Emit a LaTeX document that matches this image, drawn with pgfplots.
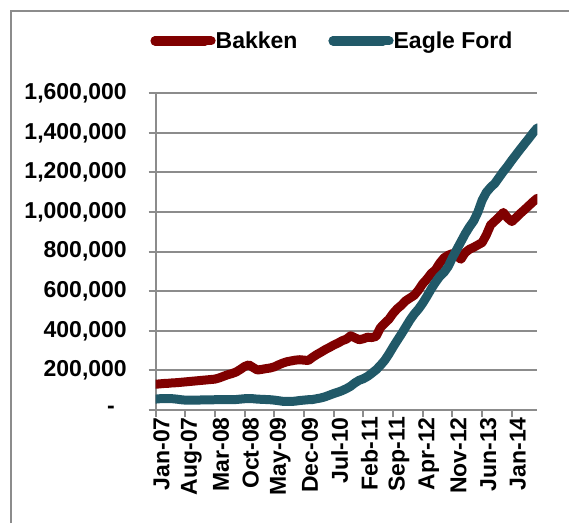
\documentclass[border=0pt]{standalone}
\usepackage{fontspec}
\setmainfont{Liberation Sans}
\usepackage{pgfplots}
\usepackage{pgfplotstable}
\pgfplotsset{compat=1.18}
\definecolor{bakken}{RGB}{128,0,0}
\definecolor{eagle}{RGB}{33,89,104}
\definecolor{gridc}{RGB}{140,140,140}
\pgfplotstableread{
m bakken eagle
0 130000 55000
1 132000 57000
2 134000 58000
3 135000 58000
4 137000 57000
5 138000 55000
6 140000 52000
7 142000 50000
8 144000 50000
9 146000 50000
10 148000 50000
11 150000 51000
12 152000 51000
13 154000 51000
14 156000 52000
15 162000 52000
16 170000 52000
17 178000 52000
18 184000 52000
19 192000 53000
20 205000 55000
21 220000 57000
22 228000 58000
23 215000 57000
24 202000 55000
25 205000 54000
26 209000 53000
27 212000 52000
28 218000 50000
29 228000 47000
30 237000 44000
31 244000 43000
32 248000 43000
33 252000 45000
34 254000 48000
35 252000 50000
36 250000 52000
37 266000 53000
38 280000 57000
39 292000 61000
40 305000 67000
41 316000 75000
42 328000 83000
43 338000 90000
44 350000 98000
45 358000 108000
46 375000 120000
47 365000 137000
48 355000 150000
49 360000 158000
50 368000 170000
51 366000 186000
52 372000 203000
53 415000 225000
54 438000 250000
55 458000 282000
56 488000 318000
57 512000 352000
58 530000 385000
59 552000 420000
60 566000 455000
61 580000 485000
62 606000 510000
63 638000 540000
64 662000 575000
65 690000 612000
66 708000 645000
67 742000 675000
68 768000 695000
69 782000 725000
70 790000 770000
71 778000 810000
72 762000 850000
73 795000 890000
74 812000 925000
75 822000 955000
76 834000 1000000
77 846000 1060000
78 885000 1100000
79 935000 1125000
80 955000 1145000
81 975000 1175000
82 998000 1205000
83 970000 1232000
84 952000 1262000
85 972000 1290000
86 993000 1318000
87 1012000 1345000
88 1032000 1372000
89 1052000 1400000
90 1070000 1425000
}\data
\begin{document}
\begin{tikzpicture}
\useasboundingbox (0,0) rectangle (569pt,523pt);
\draw[gridc, line width=2pt] (11pt,0) -- (11pt,512pt) -- (569pt,512pt);
\begin{axis}[
  at={(155.5pt,113pt)}, anchor=south west,
  scale only axis, width=381.8pt, height=316.7pt,
  xmin=0, xmax=90, ymin=0, ymax=1600000,
  scaled y ticks=false,
  axis x line*=bottom, axis y line*=left,
  axis line style={gridc, line width=2pt, -},
  every tick/.style={gridc, line width=2pt},
  major tick length=7pt,
  tick align=outside,
  ymajorgrids, grid style={gridc, line width=2pt},
  xtick={0,7,...,84},
  xticklabels={Jan-07,Aug-07,Mar-08,Oct-08,May-09,Dec-09,Jul-10,Feb-11,Sep-11,Apr-12,Nov-12,Jun-13,Jan-14},
  ytick={0,200000,...,1600000},
  yticklabels={-\hspace*{12pt},{200,000},{400,000},{600,000},{800,000},{1,000,000},{1,200,000},{1,400,000},{1,600,000}},
  tick label style={font=\fontsize{23}{27}\selectfont\bfseries},
  xticklabel style={rotate=90, anchor=east, inner sep=0pt, yshift=-6pt},
  yticklabel style={anchor=east, inner sep=0pt, xshift=-21.5pt},
  legend columns=2,
  legend style={draw=none, fill=none, at={(axis description cs:0,0)}, anchor=west,
    xshift=-5.2pt, yshift=369pt, inner sep=0pt,
    nodes={inner sep=0pt, font=\fontsize{23}{27}\selectfont\bfseries},
    /tikz/every even column/.append style={column sep=31pt}},
  legend image code/.code={\draw[#1, line width=9.3pt, line cap=round] (0pt,0pt) -- (50pt,0pt); \path (0pt,0pt) -- (56pt,0pt);},
]
\addplot[bakken, line width=9pt, line cap=round, line join=round] table[x=m, y=bakken] {\data};
\addlegendentry{Bakken}
\addplot[eagle, line width=9pt, line cap=round, line join=round] table[x=m, y=eagle] {\data};
\addlegendentry{Eagle Ford}
\end{axis}
\end{tikzpicture}
\end{document}
